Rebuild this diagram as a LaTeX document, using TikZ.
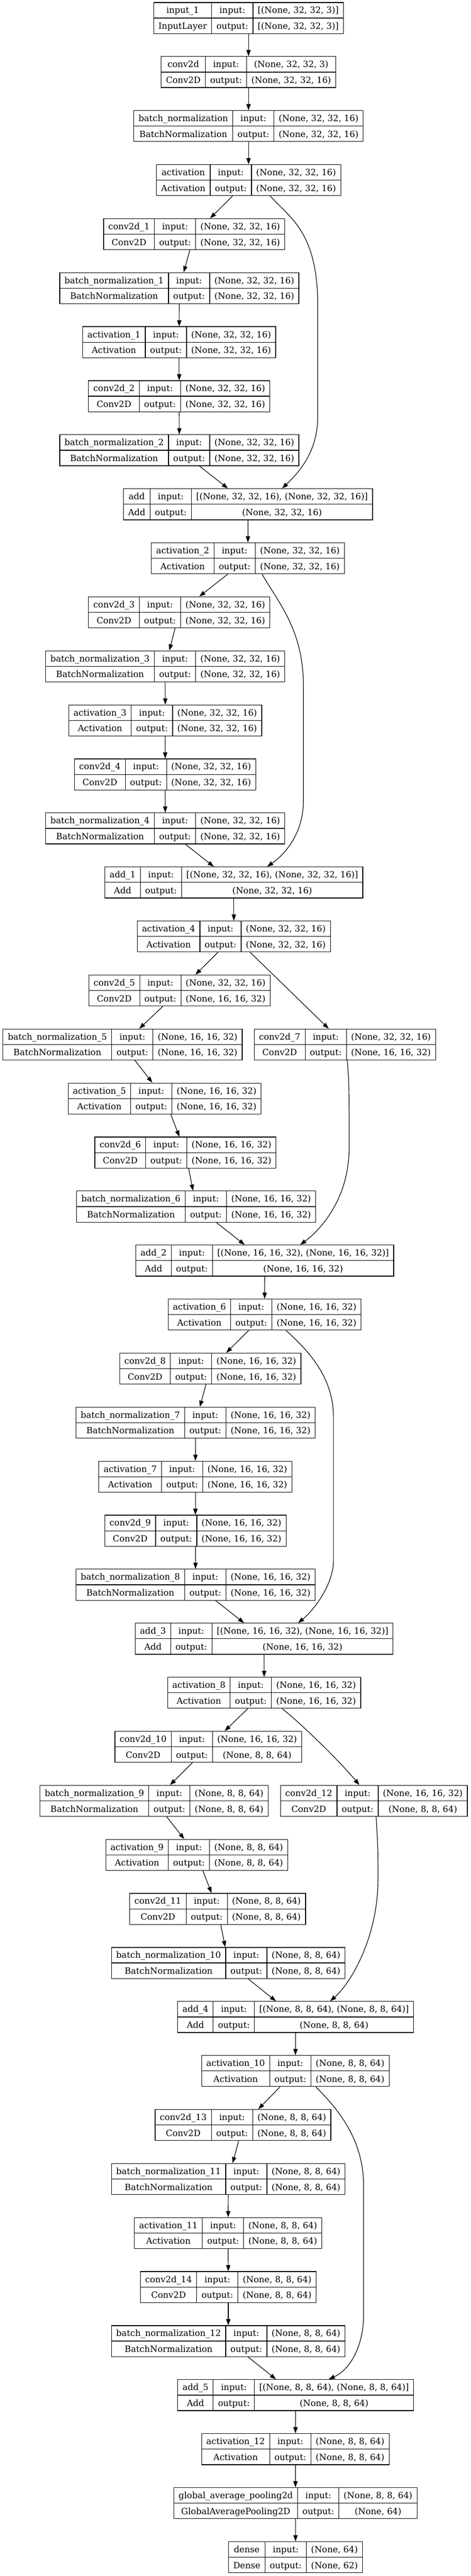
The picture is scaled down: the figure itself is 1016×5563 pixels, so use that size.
\documentclass[tikz,border=0pt]{standalone}
\usepackage{fontspec}
\setmainfont{DejaVu Serif}
\usetikzlibrary{arrows.meta}

\setlength{\tabcolsep}{10.25pt}
\setlength{\arrayrulewidth}{1.33pt}
\renewcommand{\arraystretch}{0}
\newcommand{\lrow}{\rule[-9.55pt]{0pt}{32.85pt}}
\newcommand{\lay}[4]{\begin{tabular}{c|c|c}\lrow #1 & input: & #3\\\hline\lrow #2 & output: & #4\end{tabular}}

\tikzset{
  layer/.style={draw, line width=1.33pt, inner sep=0pt, font=\fontsize{18.67pt}{22pt}\selectfont},
  link/.style={-{Triangle[length=13.3pt,width=9.3pt]}, line width=1.33pt},
}

\begin{document}
\begin{tikzpicture}[x=1pt,y=-1pt]
  \path[fill=white,use as bounding box] (0,0) rectangle (1016,5563);

  % stem
  \node[layer] (inp) at (536.6,39) {\lay{input\_1}{InputLayer}{[(None, 32, 32, 3)]}{[(None, 32, 32, 3)]}};
  \node[layer] (conv) at (536.6,155.67) {\lay{conv2d}{Conv2D}{(None, 32, 32, 3)}{(None, 32, 32, 16)}};
  \node[layer] (bn) at (536.6,272.33) {\lay{batch\_normalization}{BatchNormalization}{(None, 32, 32, 16)}{(None, 32, 32, 16)}};
  \node[layer] (act) at (536.6,389) {\lay{activation}{Activation}{(None, 32, 32, 16)}{(None, 32, 32, 16)}};

  % block 1
  \node[layer] (conv1) at (419.3,505.67) {\lay{conv2d\_1}{Conv2D}{(None, 32, 32, 16)}{(None, 32, 32, 16)}};
  \node[layer] (bn1) at (387.2,622.33) {\lay{batch\_normalization\_1}{BatchNormalization}{(None, 32, 32, 16)}{(None, 32, 32, 16)}};
  \node[layer] (act1) at (386.9,739) {\lay{activation\_1}{Activation}{(None, 32, 32, 16)}{(None, 32, 32, 16)}};
  \node[layer] (conv2) at (386.9,855.67) {\lay{conv2d\_2}{Conv2D}{(None, 32, 32, 16)}{(None, 32, 32, 16)}};
  \node[layer] (bn2) at (387.2,972.33) {\lay{batch\_normalization\_2}{BatchNormalization}{(None, 32, 32, 16)}{(None, 32, 32, 16)}};
  \node[layer] (add) at (535.4,1089) {\lay{add}{Add}{[(None, 32, 32, 16), (None, 32, 32, 16)]}{(None, 32, 32, 16)}};
  \node[layer] (act2) at (535.3,1205.67) {\lay{activation\_2}{Activation}{(None, 32, 32, 16)}{(None, 32, 32, 16)}};

  % block 2
  \node[layer] (conv3) at (386.9,1322.33) {\lay{conv2d\_3}{Conv2D}{(None, 32, 32, 16)}{(None, 32, 32, 16)}};
  \node[layer] (bn3) at (356.8,1439) {\lay{batch\_normalization\_3}{BatchNormalization}{(None, 32, 32, 16)}{(None, 32, 32, 16)}};
  \node[layer] (act3) at (356.8,1555.67) {\lay{activation\_3}{Activation}{(None, 32, 32, 16)}{(None, 32, 32, 16)}};
  \node[layer] (conv4) at (356.5,1672.33) {\lay{conv2d\_4}{Conv2D}{(None, 32, 32, 16)}{(None, 32, 32, 16)}};
  \node[layer] (bn4) at (356.8,1789) {\lay{batch\_normalization\_4}{BatchNormalization}{(None, 32, 32, 16)}{(None, 32, 32, 16)}};
  \node[layer] (add1) at (504.9,1905.67) {\lay{add\_1}{Add}{[(None, 32, 32, 16), (None, 32, 32, 16)]}{(None, 32, 32, 16)}};
  \node[layer] (act4) at (504.9,2022.33) {\lay{activation\_4}{Activation}{(None, 32, 32, 16)}{(None, 32, 32, 16)}};

  % block 3
  \node[layer] (conv5) at (387.6,2139) {\lay{conv2d\_5}{Conv2D}{(None, 32, 32, 16)}{(None, 16, 16, 32)}};
  \node[layer] (bn5) at (264.7,2255.67) {\lay{batch\_normalization\_5}{BatchNormalization}{(None, 16, 16, 32)}{(None, 16, 16, 32)}};
  \node[layer] (conv7) at (744.7,2255.67) {\lay{conv2d\_7}{Conv2D}{(None, 32, 32, 16)}{(None, 16, 16, 32)}};
  \node[layer] (act5) at (355.5,2372.33) {\lay{activation\_5}{Activation}{(None, 16, 16, 32)}{(None, 16, 16, 32)}};
  \node[layer] (conv6) at (400.5,2489) {\lay{conv2d\_6}{Conv2D}{(None, 16, 16, 32)}{(None, 16, 16, 32)}};
  \node[layer] (bn6) at (423.5,2605.67) {\lay{batch\_normalization\_6}{BatchNormalization}{(None, 16, 16, 32)}{(None, 16, 16, 32)}};
  \node[layer] (add2) at (571.6,2722.33) {\lay{add\_2}{Add}{[(None, 16, 16, 32), (None, 16, 16, 32)]}{(None, 16, 16, 32)}};
  \node[layer] (act6) at (571.3,2839) {\lay{activation\_6}{Activation}{(None, 16, 16, 32)}{(None, 16, 16, 32)}};

  % block 4
  \node[layer] (conv8) at (454,2955.67) {\lay{conv2d\_8}{Conv2D}{(None, 16, 16, 32)}{(None, 16, 16, 32)}};
  \node[layer] (bn7) at (422.2,3072.33) {\lay{batch\_normalization\_7}{BatchNormalization}{(None, 16, 16, 32)}{(None, 16, 16, 32)}};
  \node[layer] (act7) at (421.9,3189) {\lay{activation\_7}{Activation}{(None, 16, 16, 32)}{(None, 16, 16, 32)}};
  \node[layer] (conv9) at (421.9,3305.67) {\lay{conv2d\_9}{Conv2D}{(None, 16, 16, 32)}{(None, 16, 16, 32)}};
  \node[layer] (bn8) at (422.2,3422.33) {\lay{batch\_normalization\_8}{BatchNormalization}{(None, 16, 16, 32)}{(None, 16, 16, 32)}};
  \node[layer] (add3) at (570.3,3539) {\lay{add\_3}{Add}{[(None, 16, 16, 32), (None, 16, 16, 32)]}{(None, 16, 16, 32)}};
  \node[layer] (act8) at (570.3,3655.67) {\lay{activation\_8}{Activation}{(None, 16, 16, 32)}{(None, 16, 16, 32)}};

  % block 5
  \node[layer] (conv10) at (449.8,3772.33) {\lay{conv2d\_10}{Conv2D}{(None, 16, 16, 32)}{(None, 8, 8, 64)}};
  \node[layer] (bn9) at (332.8,3889) {\lay{batch\_normalization\_9}{BatchNormalization}{(None, 8, 8, 64)}{(None, 8, 8, 64)}};
  \node[layer] (conv12) at (807.5,3889) {\lay{conv2d\_12}{Conv2D}{(None, 16, 16, 32)}{(None, 8, 8, 64)}};
  \node[layer] (act9) at (424.8,4005.67) {\lay{activation\_9}{Activation}{(None, 8, 8, 64)}{(None, 8, 8, 64)}};
  \node[layer] (conv11) at (469.9,4122.33) {\lay{conv2d\_11}{Conv2D}{(None, 8, 8, 64)}{(None, 8, 8, 64)}};
  \node[layer] (bn10) at (492.9,4239) {\lay{batch\_normalization\_10}{BatchNormalization}{(None, 8, 8, 64)}{(None, 8, 8, 64)}};
  \node[layer] (add4) at (638.4,4355.67) {\lay{add\_4}{Add}{[(None, 8, 8, 64), (None, 8, 8, 64)]}{(None, 8, 8, 64)}};
  \node[layer] (act10) at (637.7,4472.33) {\lay{activation\_10}{Activation}{(None, 8, 8, 64)}{(None, 8, 8, 64)}};

  % block 6 and head
  \node[layer] (conv13) at (524.6,4589) {\lay{conv2d\_13}{Conv2D}{(None, 8, 8, 64)}{(None, 8, 8, 64)}};
  \node[layer] (bn11) at (492.9,4705.67) {\lay{batch\_normalization\_11}{BatchNormalization}{(None, 8, 8, 64)}{(None, 8, 8, 64)}};
  \node[layer] (act11) at (492.5,4822.33) {\lay{activation\_11}{Activation}{(None, 8, 8, 64)}{(None, 8, 8, 64)}};
  \node[layer] (conv14) at (492.9,4939) {\lay{conv2d\_14}{Conv2D}{(None, 8, 8, 64)}{(None, 8, 8, 64)}};
  \node[layer] (bn12) at (492.9,5055.67) {\lay{batch\_normalization\_12}{BatchNormalization}{(None, 8, 8, 64)}{(None, 8, 8, 64)}};
  \node[layer] (add5) at (638.4,5172.33) {\lay{add\_5}{Add}{[(None, 8, 8, 64), (None, 8, 8, 64)]}{(None, 8, 8, 64)}};
  \node[layer] (act12) at (637.7,5289) {\lay{activation\_12}{Activation}{(None, 8, 8, 64)}{(None, 8, 8, 64)}};
  \node[layer] (gap) at (638,5405.67) {\lay{global\_average\_pooling2d}{GlobalAveragePooling2D}{(None, 8, 8, 64)}{(None, 64)}};
  \node[layer] (dense) at (638,5522.33) {\lay{dense}{Dense}{(None, 64)}{(None, 62)}};

  % main chain
  \foreach \a/\b in {inp/conv, conv/bn, bn/act, act/conv1, conv1/bn1, bn1/act1, act1/conv2,
      conv2/bn2, bn2/add, add/act2, act2/conv3, conv3/bn3, bn3/act3, act3/conv4, conv4/bn4,
      bn4/add1, add1/act4, act4/conv5, act4/conv7, conv5/bn5, bn5/act5, act5/conv6, conv6/bn6,
      bn6/add2, add2/act6, act6/conv8, conv8/bn7, bn7/act7, act7/conv9, conv9/bn8, bn8/add3,
      add3/act8, act8/conv10, conv10/bn9, bn9/act9, act9/conv11, conv11/bn10, bn10/add4,
      add4/act10, act10/conv13, conv13/bn11, bn11/act11, act11/conv14, conv14/bn12,
      bn12/add5, add5/act12, act12/gap, gap/dense}
    \draw[link] (\a) -- (\b);

  % shortcuts
  \draw[link] ([xshift=46.7pt]act.south) .. controls (625,470) and (686,500) .. (686,660)
    -- (686,900) .. controls (686,980) and (640,1025) .. ([xshift=73.8pt]add.north);
  \draw[link] ([xshift=30.5pt]act2.south) .. controls (600,1300) and (655,1360) .. (655,1480)
    -- (655,1730) .. controls (655,1800) and (615,1845) .. ([xshift=71.9pt]add1.north);
  \draw[link] ([xshift=5.1pt]conv7.south) .. controls (753.7,2340) .. (753.7,2480)
    .. controls (753.7,2580) and (700,2650) .. ([xshift=76.5pt]add2.north);
  \draw[link] ([xshift=46.3pt]act6.south) .. controls (660,2912) and (720,2970) .. (720,3060)
    -- (720,3370) .. controls (720,3420) and (680,3475) .. ([xshift=73.3pt]add3.north);
  \draw[link] ([xshift=38.9pt]act8.south) .. controls (650,3722) and (735,3805) .. ([xshift=-31.7pt]conv12.north);
  \draw[link] ([xshift=4.5pt]conv12.south) .. controls (816,3990) .. (816,4060)
    .. controls (816,4180) and (760,4280) .. ([xshift=74.5pt]add4.north);
  \draw[link] ([xshift=44.1pt]act10.south) .. controls (730,4555) and (785,4620) .. (785,4720)
    -- (785,5000) .. controls (785,5060) and (760,5115) .. ([xshift=71.3pt]add5.north);
\end{tikzpicture}
\end{document}
